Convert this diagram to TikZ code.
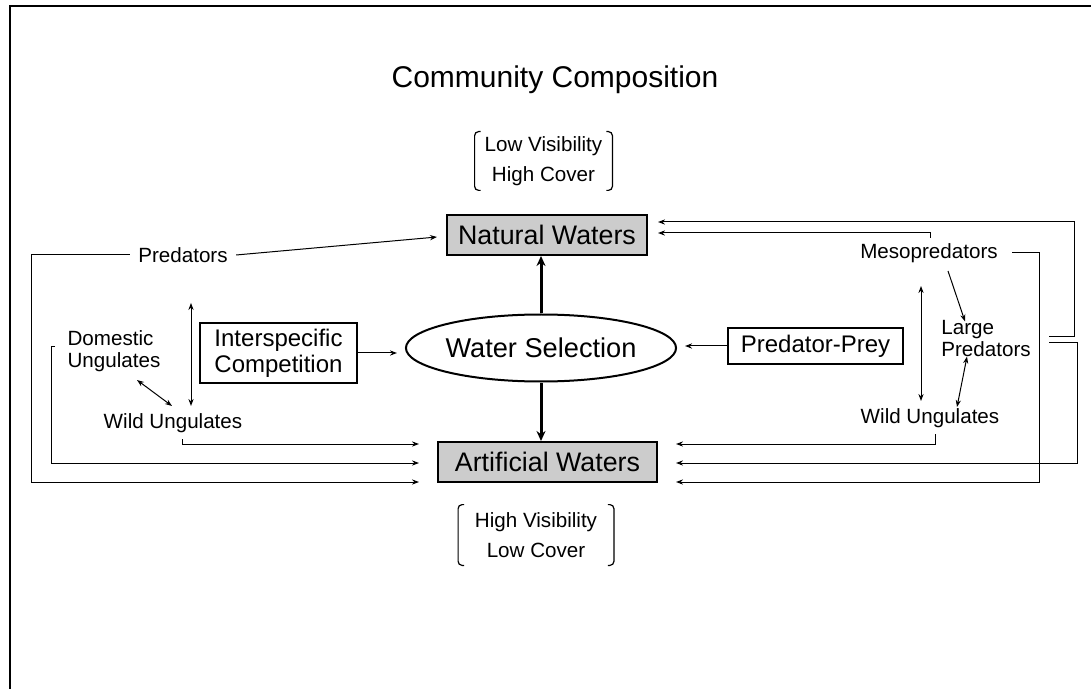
\documentclass[tikz,border=0pt]{standalone}
\usepackage{fontspec}
\setmainfont{Liberation Sans}
\usetikzlibrary{arrows.meta,shapes.geometric,positioning}

\begin{document}
\begin{tikzpicture}[
		x=0.5pt, y=-0.5pt,
		waterbox/.style={draw=black, line width=1pt, fill=black!20, inner sep=0pt, font=\fontsize{13.4}{16}\selectfont},
		factorbox/.style={draw=black, line width=0.8pt, inner sep=0pt, align=center, font=\fontsize{12}{12.8}\selectfont},
		animal/.style={inner sep=0pt, font=\fontsize{10.3}{11}\selectfont},
		habitat/.style={inner sep=0pt, align=center, font=\fontsize{10.3}{15}\selectfont},
		flow/.style={-{Stealth[length=3.5pt,width=2.6pt]}, line width=0.5pt},
		mutual/.style={{Stealth[length=3.5pt,width=2.6pt]}-{Stealth[length=3.5pt,width=2.6pt]}, line width=0.5pt},
		bold/.style={-{Stealth[length=5pt,width=4.5pt]}, line width=1.5pt}
	]

	\useasboundingbox (0,0) rectangle (1091,689);
	\draw[line width=1.3pt] (10,689) -- (10,6) -- (1091,6);

	\node[font=\fontsize{15}{18}\selectfont] (title) at (555,80) {Community Composition};

	% centre column
	\node[habitat, minimum width=68.5pt, minimum height=29pt] (lowvis) at (543.5,161) {Low Visibility\\High Cover};
	\node[waterbox, minimum width=100pt, minimum height=20pt] (natural) at (547,235) {Natural Waters};
	\node[ellipse, draw, line width=1pt, inner sep=0pt, minimum width=123.5pt, minimum height=33.5pt,
		font=\fontsize{13.6}{16}\selectfont] (select) at (541,348) {Water Selection};
	\node[waterbox, minimum width=109.5pt, minimum height=20pt] (artificial) at (547.5,462) {Artificial Waters};
	\node[habitat, minimum width=77.5pt, minimum height=30pt] (highvis) at (536,535) {High Visibility\\Low Cover};

	\foreach \n in {lowvis, highvis} {
			\draw[line width=0.6pt, rounded corners=2pt] ([xshift=3pt]\n.north west) -- (\n.north west) -- (\n.south west) -- ([xshift=3pt]\n.south west);
			\draw[line width=0.6pt, rounded corners=2pt] ([xshift=-3pt]\n.north east) -- (\n.north east) -- (\n.south east) -- ([xshift=-3pt]\n.south east);
		}

	\node[factorbox, minimum width=78.5pt, minimum height=30pt] (compet) at (278.5,353) {Interspecific\\Competition};
	\node[factorbox, minimum width=87.5pt, minimum height=18pt] (predprey) at (815.5,346) {Predator-Prey};

	% left side
	\node[animal] (predL) at (183,255) {Predators};
	\node[animal, align=left] (domestic) at (114,351) {Domestic\\Ungulates};
	\node[animal] (wildL) at (173,423) {Wild Ungulates};

	% right side
	\node[animal] (meso) at (929,253) {Mesopredators};
	\node[animal, align=left] (large) at (986,339) {Large\\Predators};
	\node[animal] (wildR) at (930,418) {Wild Ungulates};

	\foreach \i/\dy in {1/-18, 2/1, 3/20} {
			\coordinate (aw-\i) at ([shift={(-18,\dy)}]artificial.west);
			\coordinate (ae-\i) at ([shift={(18,\dy)}]artificial.east);
		}
	\coordinate (nw-1) at ([shift={(10,-13)}]natural.east);
	\coordinate (nw-2) at ([shift={(10,-2)}]natural.east);

	\draw[bold] (select.north) -- (select.north |- natural.south);
	\draw[bold] (select.south) -- (select.south |- artificial.north);
	\draw[flow] (compet.east) -- ([xshift=-4pt]compet.east -| select.west);
	\draw[flow] (predprey.west) -- ([xshift=4pt]predprey.west -| select.east);

	\draw[flow] ([xshift=4pt]predL.east) -- ([shift={(-9,2)}]natural.west);
	\draw[flow] ([xshift=-4pt]predL.west) -- ++(-98,0) |- (aw-3);
	\draw[flow] ([shift={(-12,-4)}]domestic.west) -- ++(-4,0) |- (aw-2);
	\draw[flow] ([shift={(9,6)}]wildL.south) |- (aw-1);
	\draw[mutual] ([shift={(8,40)}]predL.south) -- ([shift={(18,-7)}]wildL.north);
	\draw[mutual] ([shift={(23,8)}]domestic.south) -- ([shift={(-1,-7)}]wildL.north);

	\draw[flow] ([shift={(1,-5)}]meso.north) |- (nw-2);
	\draw[flow] ([shift={(18,-2)}]large.east) -- ++(25,0) |- (nw-1);
	\draw[flow] ([shift={(18,4)}]large.east) -- ++(28,0) |- (ae-2);
	\draw[flow] ([xshift=7pt]meso.east) -- ++(27,0) |- (ae-3);
	\draw[flow] ([shift={(5,6)}]wildR.south) |- (ae-1);
	\draw[mutual] ([shift={(-8,23)}]meso.south) -- ([shift={(-9,-7)}]wildR.north);
	\draw[flow] ([shift={(19,8)}]meso.south) -- ([shift={(-21,1)}]large.north);
	\draw[mutual] ([shift={(27,-1)}]wildR.north) -- ([shift={(-19,-1)}]large.south);

\end{tikzpicture}
\end{document}
